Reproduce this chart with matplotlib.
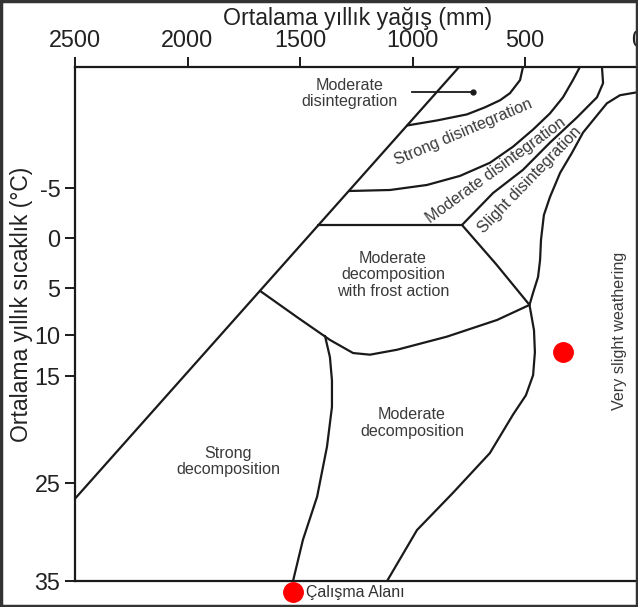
import matplotlib
matplotlib.use("Agg")
import matplotlib.pyplot as plt
from matplotlib.patches import Rectangle
import numpy as np

plt.rcParams['font.family'] = ['Liberation Sans', 'DejaVu Sans']

# axis ticks
x_ticks = [2500, 2000, 1500, 1000, 500, 0]
y_ticks = [-5, 0, 5, 10, 15, 25, 35]

# temperature axis is not linear in the source figure: tick -> plotted position
T_KNOTS = [-17, -5, 0, 5, 10, 15, 25, 35]
P_KNOTS = [67, 188, 238, 288, 335, 376, 483, 581]

# region boundaries (rainfall mm, temperature C)
diag_mm = [2500, 793]
diag_t = [26.6, -17]

b1_mm = [509, 522, 567, 611, 678, 758, 891, 1024]
b1_t = [-17, -15.7, -14.4, -13.7, -13.0, -12.3, -11.7, -11.2]

b2_mm = [256, 287, 331, 389, 464, 553, 656, 789, 936, 1100, 1282]
b2_t = [-17, -15.7, -14.0, -12.4, -10.8, -9.1, -7.5, -6.2, -5.3, -4.8, -4.7]

b3_mm = [158, 153, 180, 269, 389, 509, 642, 780, 1420]
b3_t = [-17, -15.4, -14.0, -12.0, -9.5, -6.8, -4.5, -1.3, -1.3]

b4_mm = [780, 629, 480, 460, 456, 464, 496, 553, 656, 820, 980, 1113]
b4_t = [-1.3, 2.6, 6.8, 9.5, 12.1, 14.9, 16.8, 18.6, 22.2, 26.0, 29.8, 35]

b5_mm = [0, 78, 136, 180, 242, 291, 344, 389, 416, 429, 433, 442, 464, 480]
b5_t = [-14.5, -14.2, -13.4, -12.2, -10.5, -8.5, -6.5, -4.1, -2.3, 0.2, 2.2, 3.9, 5.5, 6.8]

frost_mm = [480, 624, 847, 1069, 1189, 1264, 1367, 1513, 1678]
frost_t = [6.8, 8.4, 10.2, 11.8, 12.4, 12.2, 10.6, 8.1, 5.3]

b6_mm = [1389, 1367, 1358, 1358, 1380, 1424, 1487, 1531]
b6_t = [10.1, 12.7, 15.4, 17.9, 21.6, 26.4, 30.8, 35]

pointer_mm = [1001, 731]
pointer_t = [-14.5, -14.5]

study_mm = [331]
study_t = [12.1]

labels = [
    ("Moderate\ndisintegration", 1278, -14.4, 0),
    ("Strong disintegration", 775, -10.5, 23),
    ("Moderate disintegration", 629, -6.7, 36),
    ("Slight disintegration", 478, -5.8, 46),
    ("Very slight weathering", 78, 9.6, 90),
    ("Moderate\ndecomposition\nwith frost action", 1087, 3.7, 0),
    ("Moderate\ndecomposition", 1002, 19.4, 0),
    ("Strong\ndecomposition", 1820, 23.0, 0),
]


def fwd(t):
    return np.interp(t, T_KNOTS, P_KNOTS)


def inv(p):
    return np.interp(p, P_KNOTS, T_KNOTS)


W, H = 638, 607
fig = plt.figure(figsize=(W / 100, H / 100), dpi=100)
ax = fig.add_axes([75 / W, 26 / H, 562.5 / W, 514 / H])
ax.set_yscale('function', functions=(fwd, inv))
ax.set_xlim(2500, 0)
ax.set_ylim(35, -17)

lc = '#1a1a1a'
lw = 1.6
for xs, ys in [(diag_mm, diag_t), (b1_mm, b1_t), (b2_mm, b2_t), (b3_mm, b3_t),
               (b4_mm, b4_t), (b5_mm, b5_t), (frost_mm, frost_t), (b6_mm, b6_t)]:
    ax.plot(xs, ys, color=lc, lw=lw, solid_joinstyle='round', solid_capstyle='round')

ax.plot(pointer_mm, pointer_t, color=lc, lw=1.3)
ax.plot(pointer_mm[1], pointer_t[1], 'o', color=lc, markersize=3.5)

ax.plot(study_mm, study_t, 'o', color='#ff0000', markersize=14, label='Çalışma Alanı')

tc = '#3a3a3a'
for txt, x, y, rot in labels:
    ax.text(x, y, txt, ha='center', va='center', rotation=rot, fontsize=11.6,
            color=tc, linespacing=1.1, rotation_mode='anchor')

ax.xaxis.tick_top()
ax.set_xticks(x_ticks)
ax.set_xticklabels([str(v) for v in x_ticks])
ax.set_yticks(y_ticks)
ax.set_yticklabels([str(v) for v in y_ticks])
ax.yaxis.set_minor_locator(matplotlib.ticker.NullLocator())
ax.tick_params(axis='both', direction='out', length=7, width=1.4, color=lc,
               labelsize=16.8, pad=3.5, labelcolor='#222222')
for s in ax.spines.values():
    s.set_linewidth(1.6)
    s.set_color(lc)

fig.text(358 / W, 1 - 18 / H, 'Ortalama yıllık yağış (mm)', ha='center', va='center',
         fontsize=16.7, color='#222222')
fig.text(21.5 / W, 1 - 304 / H, 'Ortalama yıllık sıcaklık (°C)', ha='center', va='center',
         rotation=90, fontsize=16.5, color='#222222')

fig.legend(loc='center left', bbox_to_anchor=(283 / W, 1 - 593 / H), frameon=False,
           handletextpad=0.15, borderpad=0, borderaxespad=0, handlelength=1.3,
           fontsize=11.5, labelcolor='#333333', markerscale=1.0)

fig.patches.append(Rectangle((0.002, 0.002), 0.996, 0.996, transform=fig.transFigure,
                             fill=False, lw=2.5, ec='#333333'))

fig.savefig('out.png', dpi=100)
